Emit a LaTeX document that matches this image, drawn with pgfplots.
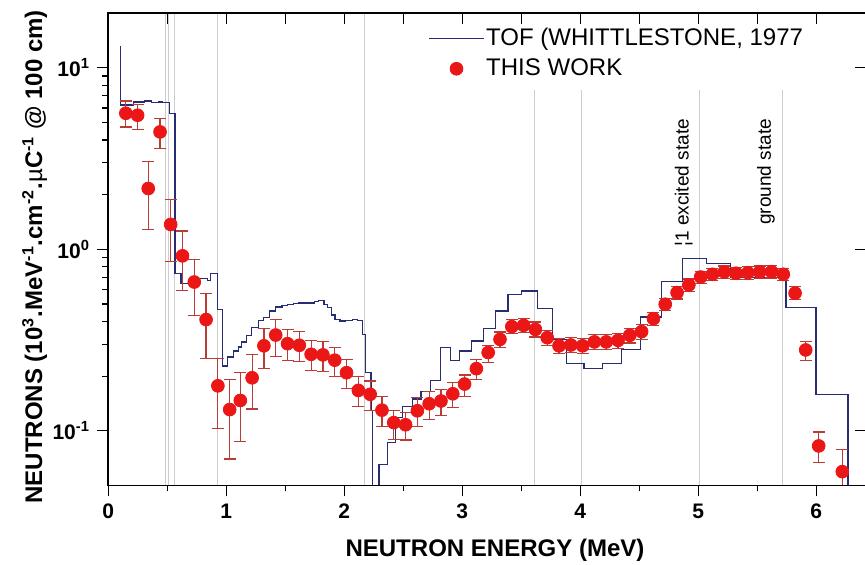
\documentclass[border=0pt]{standalone}
\usepackage{fontspec}
\setmainfont{Liberation Sans}
\usepackage{pgfplots}
\usepackage{pgfplotstable}
\pgfplotsset{compat=1.18}
\usetikzlibrary{calc}

\definecolor{tofblue}{RGB}{40,45,115}
\definecolor{dotred}{RGB}{235,22,22}
\definecolor{barred}{RGB}{185,60,55}
\definecolor{refgray}{RGB}{205,205,205}

\pgfplotsset{
  tofimg/.style={legend image code/.code={\draw[##1] (0pt,0pt) -- (27pt,0pt);}},
  dotimg/.style={legend image code/.code={\draw[mark repeat=2, mark phase=2, ##1]
        plot coordinates {(0pt,0pt) (13.5pt,0pt) (27pt,0pt)};}},
}

% this work: energy, value, +err, -err
\pgfplotstableread{
E y ep em
0.15 5.61 0.94 0.90
0.25 5.47 0.82 0.89
0.34 2.16 0.88 0.87
0.44 4.43 0.81 0.85
0.53 1.37 0.51 0.51
0.63 0.92 0.34 0.33
0.73 0.66 0.22 0.23
0.83 0.41 0.16 0.16
0.93 0.177 0.074 0.074
1.03 0.131 0.061 0.061
1.12 0.147 0.062 0.060
1.22 0.196 0.066 0.064
1.32 0.294 0.071 0.074
1.42 0.337 0.075 0.079
1.52 0.302 0.059 0.057
1.62 0.296 0.055 0.056
1.72 0.264 0.049 0.048
1.82 0.262 0.048 0.050
1.92 0.245 0.042 0.046
2.02 0.209 0.037 0.038
2.12 0.167 0.032 0.031
2.22 0.159 0.029 0.030
2.32 0.130 0.024 0.024
2.42 0.111 0.019 0.021
2.52 0.108 0.018 0.019
2.62 0.129 0.023 0.023
2.72 0.141 0.023 0.025
2.82 0.146 0.023 0.024
2.92 0.160 0.024 0.025
3.02 0.181 0.022 0.027
3.12 0.220 0.026 0.029
3.22 0.270 0.026 0.031
3.32 0.319 0.031 0.032
3.42 0.375 0.036 0.032
3.52 0.381 0.036 0.033
3.62 0.362 0.036 0.033
3.72 0.326 0.032 0.030
3.82 0.294 0.030 0.028
3.92 0.297 0.029 0.027
4.02 0.294 0.028 0.028
4.12 0.309 0.029 0.029
4.22 0.309 0.029 0.029
4.32 0.315 0.030 0.030
4.42 0.336 0.031 0.031
4.52 0.352 0.033 0.033
4.62 0.415 0.035 0.035
4.72 0.498 0.040 0.040
4.82 0.577 0.045 0.045
4.92 0.636 0.050 0.050
5.02 0.703 0.055 0.055
5.12 0.728 0.057 0.057
5.22 0.750 0.059 0.059
5.32 0.738 0.058 0.058
5.42 0.743 0.058 0.058
5.52 0.750 0.059 0.059
5.62 0.753 0.059 0.059
5.72 0.728 0.057 0.057
5.82 0.573 0.049 0.042
5.91 0.279 0.031 0.034
6.02 0.0826 0.016 0.0158
6.22 0.0596 0.019 0.015
}\thiswork

% TOF histogram, left bin edge and value
\pgfplotstableread{
E y
0.103 13.2
0.103 6.23
0.217 6.47
0.311 6.56
0.367 6.41
0.424 6.47
0.460 6.41
0.523 5.58
0.566 0.735
0.617 0.65
0.736 0.69
0.843 0.67
0.866 0.734
0.924 0.467
0.969 0.228
1.011 0.255
1.062 0.275
1.104 0.290
1.133 0.309
1.170 0.336
1.213 0.370
1.275 0.406
1.317 0.420
1.369 0.457
1.417 0.481
1.473 0.488
1.522 0.498
1.573 0.502
1.615 0.505
1.700 0.506
1.751 0.515
1.785 0.524
1.828 0.498
1.856 0.477
1.894 0.435
1.922 0.412
1.964 0.403
2.013 0.405
2.069 0.412
2.111 0.405
2.154 0.340
2.183 0.209
2.226 0.129
2.239 0.01
2.296 0.0655
2.367 0.086
2.432 0.118
2.494 0.136
2.580 0.150
2.651 0.164
2.730 0.190
2.815 0.287
2.900 0.245
2.977 0.275
3.077 0.313
3.181 0.365
3.283 0.457
3.388 0.565
3.502 0.589
3.635 0.473
3.766 0.319
3.885 0.234
4.032 0.221
4.188 0.234
4.347 0.281
4.509 0.424
4.687 0.663
4.869 0.888
5.071 0.838
5.275 0.70
5.743 0.477
5.998 0.159
6.268 0.01
6.30 0.01
}\tof

\begin{document}
\begin{tikzpicture}
\begin{axis}[
    scale only axis, width=378.5pt, height=236pt,
    xmin=0, xmax=6.42, ymin=0.05, ymax=20, ymode=log,
    axis line style={line width=0.8pt},
    tick style={black, line width=0.6pt},
    major tick length=5.5pt, minor tick length=3pt,
    tick align=outside, xtick pos=left, ytick pos=left,
    xtick={0,...,6}, minor x tick num=1,
    ytick={0.1,1,10},
    yticklabels={\textbf{10\textsuperscript{-1}},\textbf{10\textsuperscript{0}},\textbf{10\textsuperscript{1}}},
    /pgf/number format/assume math mode=true,
    xticklabel style={font=\bfseries\fontsize{10.5}{12}\selectfont},
    yticklabel style={font=\fontsize{10.5}{12}\selectfont},
    legend style={at={(axis description cs:0.4227,0.975)}, anchor=north west,
        draw=none, fill=none, inner sep=0pt, row sep=1.5pt,
        font=\fontsize{12}{14}\selectfont,
        nodes={inner sep=1pt, text height=9pt, text depth=2.5pt}},
    legend cell align=left,
]
\coordinate (sw) at (rel axis cs:0,0);
\coordinate (ne) at (rel axis cs:1,1);
\pgfplotsinvokeforeach{0.49,0.51,0.565,0.93,2.17}{
  \draw[refgray, line width=0.5pt] (axis cs:#1,0.05) -- (axis cs:#1,20);}
\pgfplotsinvokeforeach{3.61,4.01,5.01,5.71}{
  \draw[refgray, line width=0.5pt] (axis cs:#1,0.05) -- (axis cs:#1,7.5);}

\addplot[tofblue, line width=0.65pt, const plot, mark=none, tofimg]
    table[x=E, y=y] {\tof};
\addlegendentry{TOF (WHITTLESTONE, 1977}

\addplot[only marks, mark=*, mark size=3.2pt, color=dotred,
    mark options={fill=dotred, draw=dotred}, dotimg,
    error bars/.cd, y dir=both, y explicit,
    error bar style={barred, line width=0.6pt},
    error mark options={rotate=90, barred, mark size=3pt, line width=0.6pt}]
    table[x=E, y=y, y error plus=ep, y error minus=em] {\thiswork};
\addlegendentry{THIS WORK}

\node[rotate=90, anchor=east, font=\fontsize{9.5}{11}\selectfont]
    at (axis cs:4.877,5.7) {¦1 excited state};
\node[rotate=90, anchor=east, font=\fontsize{9.5}{11}\selectfont]
    at (axis cs:5.573,5.7) {ground state};
\end{axis}

% top and right ticks point the same way as the bottom and left ones
\begin{axis}[
    scale only axis, width=378.5pt, height=236pt,
    xmin=0, xmax=6.42, ymin=0.05, ymax=20, ymode=log,
    axis line style={line width=0.8pt},
    tick style={black, line width=0.6pt},
    major tick length=5.5pt, minor tick length=3pt,
    tick align=inside, xtick pos=right, ytick pos=right,
    xtick={0,0.5,...,6}, ytick={0.1,1,10}, yminorticks=false,
    xticklabels={}, yticklabels={},
]
\end{axis}

\node[rotate=90, anchor=base, font=\bfseries\fontsize{12}{14}\selectfont]
    at ($(sw)+(-33pt,114.25pt)$)
    {NEUTRONS (10\textsuperscript{3}.MeV\textsuperscript{-1}.cm\textsuperscript{-2}.{\mdseries µ}C\textsuperscript{-1} @ 100 cm)};
\node[anchor=base, font=\bfseries\fontsize{12}{14}\selectfont]
    at ($(sw)+(193.25pt,-35.5pt)$) {NEUTRON ENERGY (MeV)};

\pgfresetboundingbox
\path ($(sw)+(-54pt,-39.5pt)$) rectangle ($(ne)+(-0.45pt,6.5pt)$);
\end{tikzpicture}
\end{document}
